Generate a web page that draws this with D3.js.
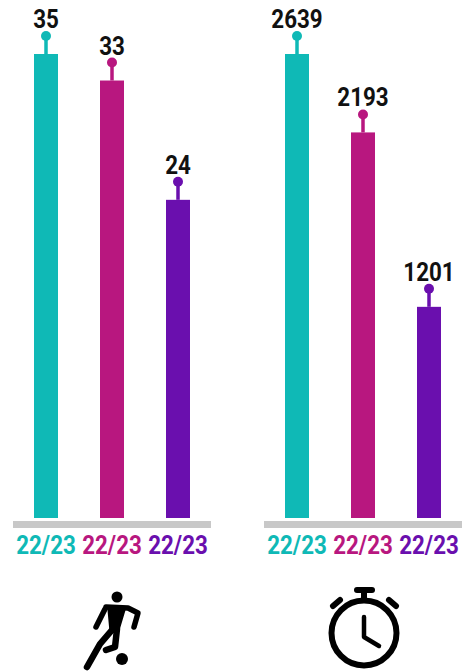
<!DOCTYPE html>
<html lang="en">

<head>
    <meta charset="UTF-8">
    <title>Appearances and minutes</title>
    <script src="https://d3js.org/d3.v7.min.js"></script>
    <style>
        html, body {
            margin: 0;
            background: #fff;
        }

        text {
            font-family: Roboto, sans-serif;
        }

        .value {
            font-size: 26px;
            font-weight: 700;
            fill: #111;
            text-anchor: middle;
        }

        .tick text {
            font-size: 26px;
            font-weight: 700;
        }
    </style>
</head>

<body>
    <div id="chart"></div>

    <script>
        const seasons = ["22/23", "22/23", "22/23"];
        const appearances = [35, 33, 24];
        const minutes = [2639, 2193, 1201];
        const colors = ["#0fb9b6", "#b8177f", "#6a0fae"];

        const width = 465;
        const height = 672;
        const marginTop = 54;
        const baseline = 518;
        const stem = 18;

        const svg = d3.select("#chart").append("svg")
            .attr("width", width)
            .attr("height", height)
            .attr("viewBox", [0, 0, width, height])
            .style("display", "block");

        // squeeze Roboto to look like the condensed face in the picture
        function condense(sel, k) {
            sel.each(function () {
                d3.select(this)
                    .attr("textLength", this.getComputedTextLength() * k)
                    .attr("lengthAdjust", "spacingAndGlyphs");
            });
        }

        function panel(values, left) {
            const g = svg.append("g");
            const idx = d3.range(values.length);

            const x = d3.scaleBand()
                .domain(idx)
                .range([left, left + 198])
                .paddingInner(42 / 66)
                .paddingOuter(21 / 66);

            const y = d3.scaleLinear()
                .domain([0, d3.max(values)])
                .range([baseline, marginTop]);

            g.selectAll("rect.bar")
                .data(idx)
                .join("rect")
                .attr("class", "bar")
                .attr("x", i => x(i))
                .attr("y", i => y(values[i]))
                .attr("width", x.bandwidth())
                .attr("height", i => y(0) - y(values[i]))
                .attr("fill", i => colors[i]);

            g.selectAll("line.stem")
                .data(idx)
                .join("line")
                .attr("class", "stem")
                .attr("x1", i => x(i) + x.bandwidth() / 2)
                .attr("x2", i => x(i) + x.bandwidth() / 2)
                .attr("y1", i => y(values[i]))
                .attr("y2", i => y(values[i]) - stem)
                .attr("stroke", i => colors[i])
                .attr("stroke-width", 3.5);

            g.selectAll("circle")
                .data(idx)
                .join("circle")
                .attr("cx", i => x(i) + x.bandwidth() / 2)
                .attr("cy", i => y(values[i]) - stem)
                .attr("r", 5)
                .attr("fill", i => colors[i]);

            g.selectAll("text.value")
                .data(idx)
                .join("text")
                .attr("class", "value")
                .attr("x", i => x(i) + x.bandwidth() / 2)
                .attr("y", i => y(values[i]) - stem - 8)
                .text(i => values[i])
                .call(condense, 0.86);

            const axis = g.append("g")
                .attr("transform", `translate(0,${baseline + 3})`)
                .call(d3.axisBottom(x).tickSize(0).tickPadding(15).tickFormat(i => seasons[i]));

            axis.select(".domain").remove();
            axis.append("rect")
                .attr("x", left)
                .attr("width", 198)
                .attr("height", 7)
                .attr("fill", "#c8c8c8");
            axis.selectAll(".tick text")
                .attr("fill", i => colors[i])
                .call(condense, 0.86);
        }

        panel(appearances, 13);
        panel(minutes, 264);

        // footballer icon
        const player = svg.append("g")
            .attr("fill", "none")
            .attr("stroke", "#000")
            .attr("stroke-linecap", "round")
            .attr("stroke-linejoin", "round");
        player.append("circle").attr("cx", 117).attr("cy", 597).attr("r", 5.5).attr("fill", "#000").attr("stroke", "none");
        player.append("circle").attr("cx", 122).attr("cy", 659).attr("r", 6).attr("fill", "#000").attr("stroke", "none");
        player.append("path").attr("d", "M105 609L96 627").attr("stroke-width", 5.5);
        player.append("path").attr("d", "M106 607L128 608L138 613L134 627").attr("stroke-width", 5.5);
        player.append("path").attr("d", "M109 610L124 610L118 630L111 632Z").attr("fill", "#000").attr("stroke-width", 3);
        player.append("path").attr("d", "M112 630L100 644L87 667").attr("stroke-width", 6.5);
        player.append("path").attr("d", "M117 629L115 647L106 650").attr("stroke-width", 6.5);

        // stopwatch icon
        const watch = svg.append("g")
            .attr("fill", "none")
            .attr("stroke", "#000")
            .attr("stroke-linecap", "round")
            .attr("stroke-linejoin", "round");
        watch.append("circle").attr("cx", 364).attr("cy", 633).attr("r", 32.5).attr("stroke-width", 6);
        watch.append("path").attr("d", "M357 590L372 590").attr("stroke-width", 6);
        watch.append("path").attr("d", "M364 592L364 600").attr("stroke-width", 6).attr("stroke-linecap", "butt");
        watch.append("path").attr("d", "M333 606L340 600").attr("stroke-width", 6);
        watch.append("path").attr("d", "M389 600L396 606").attr("stroke-width", 6);
        watch.append("path").attr("d", "M364 617L364 637L379 646").attr("stroke-width", 4.5);
    </script>
</body>

</html>
